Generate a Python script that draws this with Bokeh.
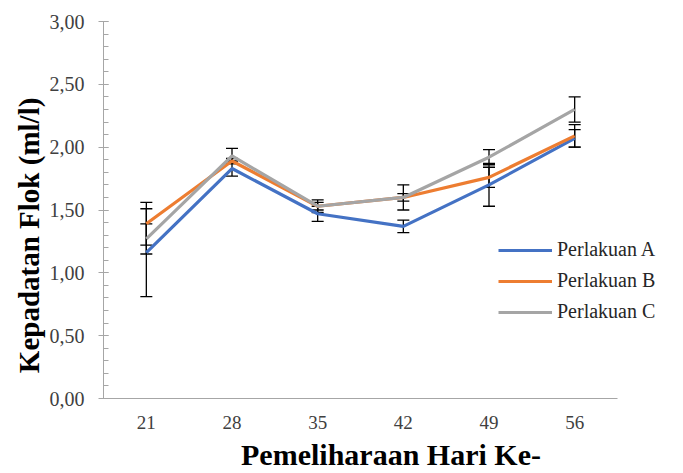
from bokeh.plotting import figure
from bokeh.models import (ColumnDataSource, Range1d, Whisker, Legend, LegendItem,
                          SingleIntervalTicker, FixedTicker, CustomJSTickFormatter)
from bokeh.embed import file_html
from bokeh.resources import INLINE

days = ["21", "28", "35", "42", "49", "56"]
series_names = ["Perlakuan A", "Perlakuan B", "Perlakuan C"]
val_a = [1.16, 1.83, 1.47, 1.37, 1.70, 2.07]
val_b = [1.39, 1.89, 1.53, 1.60, 1.76, 2.09]
val_c = [1.27, 1.93, 1.53, 1.60, 1.92, 2.30]
err_a = [0.35, 0.06, 0.06, 0.05, 0.17, 0.07]
err_b = [0.17, 0.02, 0.03, 0.03, 0.08, 0.09]
err_c = [0.12, 0.06, 0.05, 0.10, 0.06, 0.10]
colors = ["#4472C4", "#ED7D31", "#A5A5A5"]
x_title = "Pemeliharaan Hari Ke-"
y_title = "Kepadatan Flok (ml/l)"

FONT = "Liberation Serif"
NBSP = "\u00a0"

# category positions (1..n) derived from the category list
xpos = list(range(1, len(days) + 1))

W, H = 683, 473
left, right, top, bottom = 103, 20, 21, 73
frame_w = W - left - right
unit = 514 / len(days)            # pixels per category slot in the reference
x_end = 0.5 + frame_w / unit

p = figure(width=W, height=H, x_range=Range1d(0.5, x_end),
           y_range=Range1d(0, 3), output_backend="svg", toolbar_location=None,
           min_border_left=left, min_border_right=right, min_border_top=top,
           min_border_bottom=bottom)
p.outline_line_color = None
p.xgrid.grid_line_color = None
p.ygrid.grid_line_color = None

renderers = []
for vals, errs, col in zip([val_a, val_b, val_c], [err_a, err_b, err_c], colors):
    src = ColumnDataSource(dict(x=xpos, y=vals,
                                upper=[v + e for v, e in zip(vals, errs)],
                                lower=[v - e for v, e in zip(vals, errs)]))
    r = p.line("x", "y", source=src, line_color=col, line_width=3.2)
    renderers.append(r)
    w = Whisker(base="x", upper="upper", lower="lower", source=src,
                line_color="black", line_width=1.3)
    for head in (w.upper_head, w.lower_head):
        head.size = 12
        head.line_color = "black"
        head.line_width = 1.3
    p.add_layout(w)

# y axis
p.yaxis.ticker = SingleIntervalTicker(interval=0.5, num_minor_ticks=5)
p.yaxis.formatter = CustomJSTickFormatter(code="return tick.toFixed(2).replace('.', ',');")
p.yaxis.axis_line_color = "#A6A6A6"
p.yaxis.major_tick_line_color = "#A6A6A6"
p.yaxis.minor_tick_line_color = "#A6A6A6"
p.yaxis.major_tick_in = 5
p.yaxis.major_tick_out = 5
p.yaxis.minor_tick_in = 5
p.yaxis.minor_tick_out = 0
p.yaxis.major_label_text_font = FONT
p.yaxis.major_label_text_font_size = "20px"
p.yaxis.major_label_text_color = "#404040"
p.yaxis.major_label_standoff = 14
# trailing non-breaking spaces shift the visible title toward the bottom, as in the reference
p.yaxis.axis_label = y_title + NBSP * 7
p.yaxis.axis_label_text_font = FONT
p.yaxis.axis_label_text_font_style = "bold"
p.yaxis.axis_label_text_font_size = "29px"
p.yaxis.axis_label_text_color = "black"
p.yaxis.axis_label_standoff = 2

# x axis
p.xaxis.ticker = FixedTicker(ticks=xpos)
p.xaxis.major_label_overrides = {x: d for x, d in zip(xpos, days)}
p.xaxis.bounds = (0.5, len(days) + 0.5)
p.xaxis.axis_line_color = "#A6A6A6"
p.xaxis.major_tick_line_color = None
p.xaxis.minor_tick_line_color = None
p.xaxis.major_label_text_font = FONT
p.xaxis.major_label_text_font_size = "19px"
p.xaxis.major_label_text_color = "#404040"
p.xaxis.major_label_standoff = 11
p.xaxis.axis_label = NBSP * 2 + x_title
p.xaxis.axis_label_text_font = FONT
p.xaxis.axis_label_text_font_style = "bold"
p.xaxis.axis_label_text_font_size = "30px"
p.xaxis.axis_label_text_color = "black"
p.xaxis.axis_label_standoff = 6

legend = Legend(items=[LegendItem(label=n, renderers=[r]) for n, r in zip(series_names, renderers)],
                location=(395, 75), orientation="vertical")
legend.glyph_width = 54
legend.glyph_height = 20
legend.label_height = 20
legend.spacing = 8
legend.label_standoff = 5
legend.padding = 0
legend.margin = 0
legend.border_line_color = None
legend.background_fill_alpha = 0
legend.label_text_font = FONT
legend.label_text_font_size = "20px"
legend.label_text_color = "#262626"
p.add_layout(legend, "center")

open("out.html", "w").write(file_html(p, INLINE))
